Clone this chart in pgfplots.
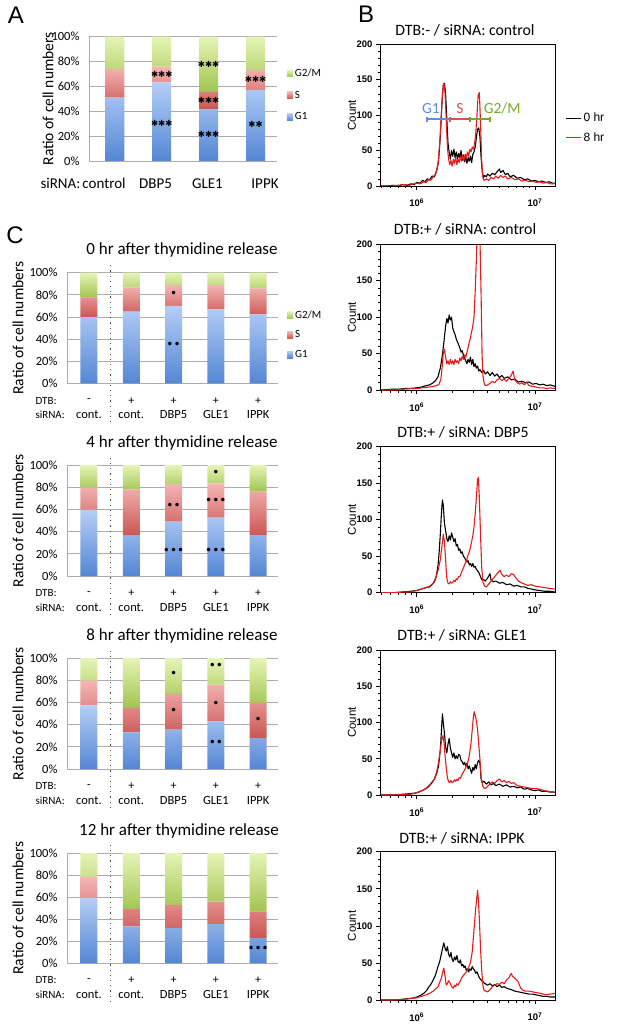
\documentclass[border=0pt]{standalone}
\usepackage{fontspec}
\setmainfont{Carlito}
\newfontfamily\arial{Liberation Sans}
\newfontfamily\dv{DejaVu Sans}
\usepackage{pgfplots}
\pgfplotsset{compat=1.18}

\definecolor{g1t}{RGB}{180,206,246}
\definecolor{g1b}{RGB}{84,134,212}
\definecolor{st}{RGB}{244,182,180}
\definecolor{sb}{RGB}{202,86,84}
\definecolor{gt}{RGB}{230,244,182}
\definecolor{gb}{RGB}{160,196,80}
\definecolor{hred}{RGB}{230,28,28}
\definecolor{bblue}{RGB}{92,142,232}
\definecolor{bred}{RGB}{222,80,80}
\definecolor{bgreen}{RGB}{118,170,40}

\tikzset{
  kline/.style={black, line width=1.1pt, line join=round},
  rline/.style={hred, line width=1.1pt, line join=round},
}
\pgfplotsset{
  pg1/.style={draw=none, top color=g1t, bottom color=g1b},
  ps/.style={draw=none, top color=st, bottom color=sb},
  pg2/.style={draw=none, top color=gt, bottom color=gb},
  klegend/.style={legend image code/.code={\draw[black, line width=1.3pt] (0pt,0pt) -- (15pt,0pt);}},
  rlegend/.style={legend image code/.code={\draw[hred, line width=1.3pt] (0pt,0pt) -- (15pt,0pt);}},
  stk/.style={
    scale only axis, ybar stacked, ymin=0, ymax=100,
    ytick={0,20,...,100},
    yticklabel={\pgfmathprintnumber[assume math mode=true]{\tick}\%},
    yticklabel style={xshift=-6pt},
    ymajorgrids, grid style={draw=gray!65, line width=0.8pt},
    axis line style={draw=none}, major tick length=0pt,
    xtick=\empty,
    tick label style={font=\fontsize{12.5}{14}\selectfont},
    ylabel={Ratio of cell numbers},
    every axis y label/.style={rotate=90, anchor=center, font=\fontsize{15.5}{18}\selectfont},
    clip=false,
    legend image code/.code={\fill[##1] (0pt,-3.5pt) rectangle (6pt,3.5pt);},
    legend style={draw=none, fill=none, font=\fontsize{11}{13}\selectfont, anchor=west, inner sep=0pt},
    legend cell align=left, reverse legend,
  },
  hist/.style={
    scale only axis, width=175pt, xmin=5.69, xmax=7.17, ymin=0, ymax=200,
    ytick={0,50,100,150,200}, minor y tick num=4,
    xtick={6,7}, xticklabels={10\textsuperscript{6},10\textsuperscript{7}},
    xticklabel style={yshift=-5pt},
    minor xtick={5.699,5.778,5.845,5.903,5.954,6.301,6.477,6.602,6.699,6.778,6.845,6.903,6.954},
    xtick pos=left, ytick pos=left, tick align=outside,
    major tick length=4pt, minor tick length=2.5pt,
    every tick/.style={black, line width=0.7pt},
    axis line style={line width=0.9pt},
    tick label style={font=\arial\bfseries\fontsize{9.5}{11}\selectfont},
    /pgf/number format/assume math mode=true,
    ylabel={Count},
    every axis y label/.style={at={([xshift=-28pt]axis description cs:0,0.5)}, rotate=90, anchor=center, font=\arial\fontsize{11.5}{13}\selectfont},
    clip mode=individual,
  },
}
\newcommand{\stars}[1]{{\dv\fontsize{8.5}{8.5}\selectfont #1}}
\newcommand{\dts}[1]{{\dv\fontsize{12}{12}\selectfont #1}}
\newcommand{\cl}[3]{%
  \node[font=\fontsize{12}{12}\selectfont] at ([yshift=-17.5pt]axis cs:#1,0) {#2};
  \node[font=\fontsize{12.5}{12.5}\selectfont] at ([yshift=-31.5pt]axis cs:#1,0) {#3};
}
\newcommand{\clabels}{%
  \cl{0}{-}{cont.}\cl{1}{+}{cont.}\cl{2}{+}{DBP5}\cl{3}{+}{GLE1}\cl{4}{+}{IPPK}%
  \draw[gray!60!black, line width=1.2pt, dash pattern=on 1.2pt off 4pt] ([yshift=-39pt]axis cs:0.5,0) -- ([yshift=9pt]axis cs:0.5,100);
  \draw[gray!65, line width=0.8pt] (rel axis cs:0,0) -- (rel axis cs:0,1);
}
\newcommand{\rowlabels}[1]{%
  \node[anchor=west, font=\fontsize{11}{11}\selectfont] at (32pt,{-(#1+17.5)*1pt}) {DTB:};
  \node[anchor=west, font=\fontsize{11}{11}\selectfont] at (32pt,{-(#1+31.5)*1pt}) {siRNA:};
}

\begin{document}
\begin{tikzpicture}[x=1pt,y=1pt]
\path[use as bounding box] (0,0) rectangle (625,-1027);

% ---------------- Panel A ----------------
\node[font=\arial\fontsize{24}{24}\selectfont] at (16,-15) {A};
\begin{axis}[stk, at={(89pt,-36.7pt)}, anchor=north west, width=187.7pt, height=124.3pt,
  xmin=-0.55, xmax=3.45, bar width=19pt,
  ylabel style={at={([xshift=-41pt]axis description cs:0,0.5)}},
  legend style={at={(1,0.53)}, xshift=10pt, row sep=9pt}]
\addplot[pg1] coordinates {(0,51.0) (1,63.3) (2,41.6) (3,57.1)};
\addplot[ps]  coordinates {(0,23.0) (1,12.6) (2,13.9) (3,16.1)};
\addplot[pg2] coordinates {(0,26.0) (1,24.1) (2,44.5) (3,26.8)};
\legend{G1,S,G2/M}
\draw[gray!65, line width=0.8pt] (rel axis cs:0,0) -- (rel axis cs:0,1);
\coordinate (m1) at (axis cs:1,70);
\coordinate (m2) at (axis cs:1,30.3);
\coordinate (m3) at (axis cs:2,78);
\coordinate (m4) at (axis cs:2,48.5);
\coordinate (m5) at (axis cs:2,21.4);
\coordinate (m6) at (axis cs:3,65.7);
\coordinate (m7) at (axis cs:3,29.8);
\end{axis}
\node at (m1) {\stars{✱✱✱}};
\node at (m2) {\stars{✱✱✱}};
\node at (m3) {\stars{✱✱✱}};
\node at (m4) {\stars{✱✱✱}};
\node at (m5) {\stars{✱✱✱}};
\node at (m6) {\stars{✱✱✱}};
\node at (m7) {\stars{✱✱}};
\node[anchor=west, font=\fontsize{15}{15}\selectfont] at (37,-183.5) {siRNA:};
\node[font=\fontsize{15}{15}\selectfont] at (104,-183.5) {control};
\node[font=\fontsize{15}{15}\selectfont] at (155.5,-183.5) {DBP5};
\node[font=\fontsize{15}{15}\selectfont] at (207.5,-183.5) {GLE1};
\node[font=\fontsize{15}{15}\selectfont] at (265,-183.5) {IPPK};

% ---------------- Panel C ----------------
\node[font=\arial\fontsize{24}{24}\selectfont] at (15,-235) {C};

% 0 hr
\node[font=\fontsize{17}{17}\selectfont] at (182,-250) {0 hr after thymidine release};
\begin{axis}[stk, at={(67pt,-272.7pt)}, anchor=north west, width=211pt, height=110.6pt,
  xmin=-0.52, xmax=4.47, bar width=17pt,
  ylabel style={at={([xshift=-49pt]axis description cs:0,0.5)}},
  legend style={at={(1,0.44)}, xshift=9pt, row sep=7pt}]
\addplot[pg1] coordinates {(0,59.8) (1,64.8) (2,69.9) (3,66.9) (4,62.3)};
\addplot[ps]  coordinates {(0,18.0) (1,21.9) (2,19.0) (3,22.0) (4,23.5)};
\addplot[pg2] coordinates {(0,22.2) (1,13.3) (2,11.1) (3,11.1) (4,14.2)};
\legend{G1,S,G2/M}
\clabels
\coordinate (d1) at (axis cs:2,80);
\coordinate (d2) at (axis cs:2,34);
\end{axis}
\node at (d1) {\dts{•}};
\node at (d2) {\dts{••}};
\rowlabels{383.3}

% 4 hr
\node[font=\fontsize{17}{17}\selectfont] at (182,-442.5) {4 hr after thymidine release};
\begin{axis}[stk, at={(67pt,-465pt)}, anchor=north west, width=211pt, height=111pt,
  xmin=-0.52, xmax=4.47, bar width=17pt,
  ylabel style={at={([xshift=-49pt]axis description cs:0,0.5)}}]
\addplot[pg1] coordinates {(0,59.5) (1,36.3) (2,49.0) (3,52.6) (4,36.9)};
\addplot[ps]  coordinates {(0,20.4) (1,41.7) (2,34.0) (3,30.9) (4,39.1)};
\addplot[pg2] coordinates {(0,20.1) (1,22.0) (2,17.0) (3,16.5) (4,24.0)};
\clabels
\coordinate (d1) at (axis cs:2,62.5);
\coordinate (d2) at (axis cs:2,22.5);
\coordinate (d3) at (axis cs:3,92.5);
\coordinate (d4) at (axis cs:3,67.6);
\coordinate (d5) at (axis cs:3,22.5);
\end{axis}
\node at (d1) {\dts{••}};
\node at (d2) {\dts{•••}};
\node at (d3) {\dts{•}};
\node at (d4) {\dts{•••}};
\node at (d5) {\dts{•••}};
\rowlabels{576}

% 8 hr
\node[font=\fontsize{17}{17}\selectfont] at (182,-635.5) {8 hr after thymidine release};
\begin{axis}[stk, at={(67pt,-658pt)}, anchor=north west, width=211pt, height=111pt,
  xmin=-0.52, xmax=4.47, bar width=17pt,
  ylabel style={at={([xshift=-49pt]axis description cs:0,0.5)}}]
\addplot[pg1] coordinates {(0,57.4) (1,33.0) (2,35.4) (3,42.9) (4,27.9)};
\addplot[ps]  coordinates {(0,22.2) (1,22.0) (2,32.2) (3,33.1) (4,31.6)};
\addplot[pg2] coordinates {(0,20.4) (1,45.0) (2,32.4) (3,24.0) (4,40.5)};
\clabels
\coordinate (d1) at (axis cs:2,85);
\coordinate (d2) at (axis cs:2,52);
\coordinate (d3) at (axis cs:3,92);
\coordinate (d4) at (axis cs:3,58.6);
\coordinate (d5) at (axis cs:3,23.4);
\coordinate (d6) at (axis cs:4,43.5);
\end{axis}
\node at (d1) {\dts{•}};
\node at (d2) {\dts{•}};
\node at (d3) {\dts{••}};
\node at (d4) {\dts{•}};
\node at (d5) {\dts{••}};
\node at (d6) {\dts{•}};
\rowlabels{769}

% 12 hr
\node[font=\fontsize{17}{17}\selectfont] at (179,-831) {12 hr after thymidine release};
\begin{axis}[stk, at={(67pt,-853pt)}, anchor=north west, width=211pt, height=110pt,
  xmin=-0.52, xmax=4.47, bar width=17pt,
  ylabel style={at={([xshift=-49pt]axis description cs:0,0.5)}}]
\addplot[pg1] coordinates {(0,58.9) (1,33.3) (2,31.8) (3,35.4) (4,22.8)};
\addplot[ps]  coordinates {(0,19.5) (1,15.7) (2,21.1) (3,20.5) (4,24.0)};
\addplot[pg2] coordinates {(0,21.6) (1,51.0) (2,47.1) (3,44.1) (4,53.2)};
\clabels
\coordinate (d1) at (axis cs:4,12);
\end{axis}
\node at (d1) {\dts{•••}};
\rowlabels{963}

% ---------------- Panel B (histograms) ----------------
\node[font=\arial\fontsize{24}{24}\selectfont] at (366,-14) {B};
\node[font=\fontsize{15.8}{16}\selectfont] at (465,-30) {DTB:- / siRNA: control};
\begin{axis}[hist, at={(380pt,-44.3pt)}, anchor=north west, height=141.7pt,
  legend style={at={(1,0.41)}, anchor=west, xshift=10pt, draw=none, fill=none, inner sep=0pt,
    font=\arial\fontsize{12}{14}\selectfont, row sep=5pt}]
\addplot[kline, klegend] coordinates {(5.70,0)(5.75,0)(5.80,1)(5.85,0)(5.88,2)(5.92,1)(5.95,3)(5.98,2)(6.00,5)(6.03,4)(6.05,8)(6.07,6)(6.09,10)(6.11,9)(6.13,14)(6.15,13)(6.17,22)(6.185,35)(6.20,70)(6.215,120)(6.225,142)(6.235,145)(6.245,130)(6.255,95)(6.265,60)(6.275,48)(6.285,38)(6.295,50)(6.305,42)(6.315,52)(6.325,40)(6.335,48)(6.345,38)(6.355,46)(6.365,40)(6.375,50)(6.385,36)(6.395,44)(6.405,34)(6.415,42)(6.425,32)(6.435,40)(6.445,35)(6.455,42)(6.465,33)(6.475,45)(6.485,48)(6.495,55)(6.505,68)(6.515,80)(6.525,82)(6.535,70)(6.545,40)(6.555,20)(6.565,12)(6.575,15)(6.59,13)(6.60,17)(6.62,14)(6.64,18)(6.66,16)(6.68,20)(6.70,24)(6.71,19)(6.73,22)(6.75,16)(6.77,18)(6.79,13)(6.82,15)(6.85,11)(6.88,12)(6.91,9)(6.94,10)(6.97,7)(7.00,8)(7.03,6)(7.06,7)(7.09,5)(7.12,6)(7.15,4)(7.17,4)};
\addlegendentry{0 hr}
\addplot[rline, rlegend] coordinates {(5.70,0)(5.78,0)(5.84,1)(5.90,2)(5.94,1)(5.97,3)(6.00,4)(6.03,3)(6.06,6)(6.08,5)(6.10,9)(6.12,8)(6.14,13)(6.16,17)(6.18,30)(6.195,60)(6.21,105)(6.22,135)(6.23,145)(6.24,132)(6.25,95)(6.26,55)(6.27,38)(6.28,30)(6.29,36)(6.30,28)(6.31,38)(6.32,32)(6.33,40)(6.34,30)(6.35,38)(6.36,33)(6.37,42)(6.38,35)(6.39,44)(6.40,36)(6.41,45)(6.42,40)(6.43,48)(6.44,42)(6.45,52)(6.46,48)(6.47,55)(6.48,52)(6.49,60)(6.50,75)(6.51,100)(6.52,128)(6.53,132)(6.54,90)(6.55,35)(6.56,12)(6.57,8)(6.59,10)(6.61,8)(6.63,12)(6.65,10)(6.67,14)(6.69,11)(6.71,15)(6.73,12)(6.75,14)(6.77,10)(6.80,12)(6.83,9)(6.86,10)(6.89,7)(6.92,8)(6.95,6)(6.98,7)(7.01,5)(7.04,6)(7.07,4)(7.10,5)(7.13,3)(7.17,3)};
\addlegendentry{8 hr}
\draw[bblue, line width=1.6pt] (axis cs:6.085,91) -- (axis cs:6.085,98) (axis cs:6.085,94.6) -- (axis cs:6.282,94.6) (axis cs:6.282,91) -- (axis cs:6.282,98);
\draw[bred, line width=1.6pt] (axis cs:6.287,91) -- (axis cs:6.287,98) (axis cs:6.287,94.6) -- (axis cs:6.451,94.6) (axis cs:6.451,91) -- (axis cs:6.451,98);
\draw[bgreen, line width=1.6pt] (axis cs:6.456,91) -- (axis cs:6.456,98) (axis cs:6.456,94.6) -- (axis cs:6.62,94.6) (axis cs:6.62,91) -- (axis cs:6.62,98);
\node[text=bblue, font=\fontsize{15.5}{16}\selectfont] at (axis cs:6.121,110) {G1};
\node[text=bred, font=\fontsize{15.5}{16}\selectfont] at (axis cs:6.366,110) {S};
\node[text=bgreen, font=\fontsize{15.5}{16}\selectfont] at (axis cs:6.724,110) {G2/M};
\end{axis}

\node[font=\fontsize{15.8}{16}\selectfont] at (465,-229) {DTB:+ / siRNA: control};
\begin{axis}[hist, at={(380pt,-244.3pt)}, anchor=north west, height=145.7pt]
\addplot[kline] coordinates {(5.70,0)(5.78,1)(5.85,1)(5.90,2)(5.95,2)(6.00,3)(6.04,4)(6.08,6)(6.11,7)(6.14,10)(6.16,13)(6.18,18)(6.20,30)(6.215,45)(6.23,65)(6.245,88)(6.255,98)(6.265,92)(6.275,103)(6.285,96)(6.295,100)(6.305,85)(6.315,80)(6.325,76)(6.335,70)(6.345,66)(6.355,62)(6.365,58)(6.375,52)(6.385,54)(6.395,48)(6.405,44)(6.415,40)(6.425,36)(6.435,42)(6.445,38)(6.455,45)(6.465,35)(6.475,42)(6.485,32)(6.495,36)(6.505,30)(6.515,33)(6.525,26)(6.535,28)(6.55,24)(6.565,27)(6.58,22)(6.60,25)(6.62,20)(6.64,24)(6.66,19)(6.68,22)(6.70,17)(6.72,20)(6.74,16)(6.77,18)(6.80,14)(6.83,15)(6.86,11)(6.89,12)(6.92,10)(6.95,11)(6.98,8)(7.01,9)(7.04,7)(7.07,8)(7.10,6)(7.13,7)(7.17,5)};
\addplot[rline] coordinates {(5.70,0)(5.80,0)(5.88,1)(5.95,2)(6.00,2)(6.05,3)(6.10,4)(6.14,5)(6.17,6)(6.19,8)(6.205,15)(6.215,30)(6.225,50)(6.235,56)(6.245,45)(6.255,36)(6.265,40)(6.275,35)(6.285,42)(6.295,36)(6.305,40)(6.315,35)(6.325,42)(6.335,38)(6.345,40)(6.355,36)(6.365,44)(6.375,40)(6.385,46)(6.395,42)(6.405,48)(6.415,45)(6.425,52)(6.435,58)(6.445,66)(6.455,72)(6.465,80)(6.475,88)(6.485,100)(6.495,135)(6.505,180)(6.515,230)(6.525,240)(6.535,210)(6.545,130)(6.553,50)(6.56,20)(6.57,10)(6.58,6)(6.60,7)(6.62,9)(6.64,12)(6.66,10)(6.68,14)(6.70,16)(6.72,13)(6.74,15)(6.76,12)(6.78,16)(6.80,20)(6.815,26)(6.83,14)(6.85,10)(6.87,8)(6.89,10)(6.91,7)(6.93,11)(6.95,6)(6.98,5)(7.01,4)(7.04,3)(7.07,3)(7.10,2)(7.13,3)(7.17,2)};
\end{axis}

\node[font=\fontsize{15.8}{16}\selectfont] at (463,-432) {DTB:+ / siRNA: DBP5};
\begin{axis}[hist, at={(380pt,-446.7pt)}, anchor=north west, height=146pt]
\addplot[kline] coordinates {(5.70,0)(5.80,0)(5.88,1)(5.95,2)(6.00,3)(6.04,5)(6.08,7)(6.11,8)(6.13,11)(6.15,15)(6.165,22)(6.18,36)(6.19,55)(6.20,80)(6.21,110)(6.218,127)(6.225,120)(6.235,95)(6.245,85)(6.255,74)(6.265,70)(6.275,78)(6.285,72)(6.295,82)(6.305,76)(6.315,70)(6.325,74)(6.335,64)(6.345,66)(6.355,58)(6.365,60)(6.375,54)(6.385,56)(6.395,50)(6.405,48)(6.415,45)(6.425,42)(6.435,44)(6.445,38)(6.455,40)(6.465,36)(6.475,40)(6.485,35)(6.495,36)(6.505,32)(6.515,30)(6.525,28)(6.535,24)(6.545,20)(6.555,17)(6.565,18)(6.58,16)(6.60,20)(6.62,26)(6.63,17)(6.65,15)(6.67,16)(6.70,13)(6.73,14)(6.76,11)(6.79,12)(6.82,9)(6.85,10)(6.88,8)(6.91,8)(6.94,6)(6.97,5)(7.00,4)(7.04,3)(7.08,2)(7.12,2)(7.17,1)};
\addplot[rline] coordinates {(5.70,0)(5.80,0)(5.90,1)(5.95,1)(6.00,3)(6.04,5)(6.08,7)(6.11,9)(6.14,13)(6.16,20)(6.18,30)(6.20,45)(6.215,65)(6.225,80)(6.235,70)(6.245,45)(6.255,20)(6.265,13)(6.275,12)(6.285,15)(6.295,13)(6.305,14)(6.315,17)(6.325,15)(6.335,19)(6.345,18)(6.355,22)(6.365,22)(6.375,26)(6.385,30)(6.395,34)(6.405,38)(6.415,42)(6.425,46)(6.435,52)(6.445,56)(6.455,62)(6.465,70)(6.475,78)(6.485,90)(6.495,108)(6.505,130)(6.515,155)(6.522,158)(6.53,130)(6.54,80)(6.55,35)(6.56,15)(6.575,9)(6.59,8)(6.61,12)(6.63,16)(6.65,20)(6.67,24)(6.69,28)(6.705,31)(6.72,25)(6.74,22)(6.76,24)(6.78,22)(6.80,26)(6.82,25)(6.84,20)(6.86,16)(6.88,14)(6.91,12)(6.94,10)(6.97,11)(7.00,9)(7.04,8)(7.08,7)(7.12,6)(7.17,5)};
\end{axis}

\node[font=\fontsize{15.8}{16}\selectfont] at (462,-635) {DTB:+ / siRNA: GLE1};
\begin{axis}[hist, at={(380pt,-650pt)}, anchor=north west, height=145pt]
\addplot[kline] coordinates {(5.70,0)(5.80,0)(5.88,1)(5.95,2)(6.00,3)(6.03,5)(6.06,7)(6.09,10)(6.11,13)(6.13,17)(6.15,22)(6.17,30)(6.185,40)(6.20,62)(6.21,90)(6.218,112)(6.225,100)(6.235,85)(6.245,66)(6.255,58)(6.265,70)(6.275,78)(6.285,65)(6.295,58)(6.305,52)(6.315,58)(6.325,50)(6.335,54)(6.345,50)(6.355,56)(6.365,55)(6.375,48)(6.385,46)(6.395,42)(6.405,45)(6.415,40)(6.425,44)(6.435,36)(6.445,40)(6.455,35)(6.465,30)(6.475,38)(6.485,34)(6.495,42)(6.505,36)(6.515,45)(6.525,48)(6.535,44)(6.545,22)(6.555,17)(6.57,19)(6.59,15)(6.61,18)(6.63,14)(6.65,16)(6.67,13)(6.70,15)(6.73,12)(6.76,14)(6.79,11)(6.82,12)(6.85,10)(6.88,11)(6.91,8)(6.94,9)(6.97,7)(7.00,6)(7.03,7)(7.06,5)(7.10,5)(7.13,4)(7.17,4)};
\addplot[rline] coordinates {(5.70,0)(5.80,0)(5.90,1)(5.95,1)(6.00,3)(6.03,5)(6.06,7)(6.09,11)(6.11,14)(6.13,18)(6.15,22)(6.17,32)(6.185,45)(6.20,62)(6.21,75)(6.222,82)(6.232,72)(6.24,55)(6.25,38)(6.26,24)(6.27,18)(6.28,17)(6.29,20)(6.30,17)(6.31,18)(6.32,21)(6.33,19)(6.34,22)(6.35,20)(6.36,24)(6.37,23)(6.38,27)(6.39,30)(6.40,33)(6.41,36)(6.42,40)(6.43,44)(6.44,50)(6.45,60)(6.46,72)(6.47,90)(6.48,108)(6.487,115)(6.495,110)(6.505,103)(6.515,90)(6.525,70)(6.535,50)(6.545,25)(6.555,15)(6.565,10)(6.58,9)(6.60,12)(6.62,15)(6.64,18)(6.66,16)(6.68,20)(6.70,22)(6.72,18)(6.74,20)(6.76,17)(6.78,19)(6.80,16)(6.82,17)(6.85,13)(6.88,12)(6.91,11)(6.94,10)(6.97,9)(7.00,9)(7.04,8)(7.08,6)(7.12,5)(7.17,4)};
\end{axis}

\node[font=\fontsize{15.8}{16}\selectfont] at (462,-838) {DTB:+ / siRNA: IPPK};
\begin{axis}[hist, at={(380pt,-851.7pt)}, anchor=north west, height=148.3pt]
\addplot[kline] coordinates {(5.70,0)(5.80,0)(5.88,1)(5.94,2)(5.98,3)(6.00,4)(6.03,6)(6.06,9)(6.085,13)(6.10,17)(6.12,21)(6.14,27)(6.16,34)(6.18,45)(6.195,52)(6.21,63)(6.222,72)(6.23,77)(6.24,70)(6.25,66)(6.26,72)(6.27,62)(6.28,58)(6.29,64)(6.30,55)(6.31,52)(6.32,58)(6.33,54)(6.34,60)(6.35,52)(6.36,50)(6.37,54)(6.38,46)(6.39,48)(6.40,44)(6.41,46)(6.42,40)(6.43,42)(6.44,38)(6.45,42)(6.46,40)(6.47,45)(6.48,42)(6.49,40)(6.50,36)(6.51,38)(6.52,34)(6.53,30)(6.54,28)(6.55,26)(6.565,24)(6.58,22)(6.60,20)(6.62,22)(6.64,19)(6.66,21)(6.68,18)(6.70,20)(6.72,17)(6.74,18)(6.76,16)(6.78,15)(6.80,14)(6.83,12)(6.86,11)(6.89,10)(6.92,9)(6.95,8)(6.98,8)(7.01,7)(7.04,6)(7.07,5)(7.10,5)(7.13,4)(7.17,4)};
\addplot[rline] coordinates {(5.70,0)(5.80,0)(5.90,1)(5.95,2)(6.00,3)(6.04,5)(6.08,7)(6.11,9)(6.14,12)(6.16,15)(6.18,18)(6.195,24)(6.21,30)(6.22,38)(6.23,43)(6.24,32)(6.25,20)(6.26,22)(6.27,26)(6.28,24)(6.29,20)(6.30,17)(6.31,16)(6.32,20)(6.33,18)(6.34,22)(6.35,20)(6.36,23)(6.37,26)(6.38,30)(6.39,32)(6.40,34)(6.41,36)(6.42,38)(6.43,40)(6.44,44)(6.45,48)(6.46,55)(6.47,65)(6.48,85)(6.49,105)(6.50,125)(6.51,140)(6.515,148)(6.522,135)(6.53,110)(6.54,70)(6.55,40)(6.56,20)(6.57,13)(6.585,12)(6.60,11)(6.62,14)(6.64,18)(6.66,20)(6.68,22)(6.70,21)(6.72,24)(6.74,22)(6.76,27)(6.78,30)(6.80,36)(6.81,32)(6.825,30)(6.84,28)(6.86,24)(6.88,16)(6.90,13)(6.92,12)(6.95,12)(6.98,11)(7.01,10)(7.05,9)(7.09,7)(7.13,8)(7.17,9)};
\end{axis}
\end{tikzpicture}
\end{document}
